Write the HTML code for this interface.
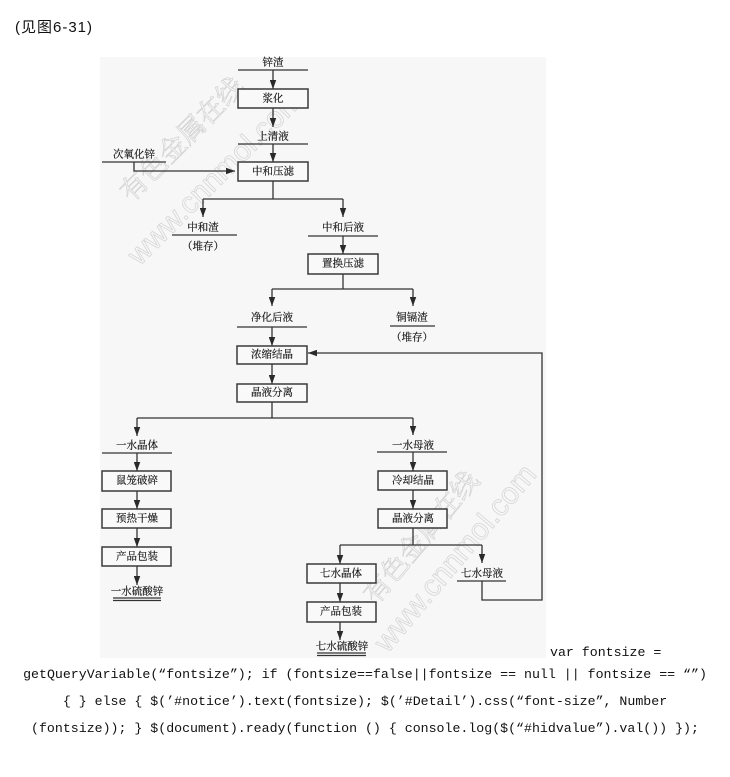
<!DOCTYPE html>
<html><head><meta charset="utf-8"><style>
html,body{margin:0;padding:0;background:#fff;}
body{width:730px;height:777px;position:relative;overflow:hidden;}
.hdr{position:absolute;left:15px;top:18px;font-family:"Liberation Sans","Noto Sans CJK SC",sans-serif;font-size:15px;letter-spacing:1px;color:#111;line-height:20px;white-space:nowrap;}
.code{position:absolute;font-family:"Liberation Mono","Noto Sans CJK SC",monospace;font-size:13.25px;color:#111;white-space:pre;line-height:16px;}
.c{left:0;width:730px;text-align:center;}
svg{position:absolute;left:0;top:0;}
</style></head><body>
<div class="hdr">(见图6-31)</div>
<svg width="730" height="777" viewBox="0 0 730 777" xmlns="http://www.w3.org/2000/svg">
<defs>
<marker id="a" viewBox="0 0 10 10" refX="10" refY="5" markerWidth="9" markerHeight="6.5" markerUnits="userSpaceOnUse" orient="auto" preserveAspectRatio="none"><path d="M0,0 L10,5 L0,10 z" fill="#2a2a2a"/></marker>
</defs>
<rect x="100" y="57" width="446" height="601" fill="#f7f7f7"/>
<!-- watermarks -->
<g fill="none" stroke="#d6d6d6" stroke-width="0.8">
<text x="183" y="148" transform="rotate(-45 183 140)" font-family="Noto Serif CJK SC, serif" font-size="27" text-anchor="middle">有色金属在线</text>
<text x="215" y="187" transform="rotate(-45 215 177)" font-family="Liberation Sans, sans-serif" font-size="30" text-anchor="middle">www.cnnmol.com</text>
<text x="422" y="546" transform="rotate(-50 422 538)" font-family="Noto Serif CJK SC, serif" font-size="27" text-anchor="middle">有色金属在线</text>
<text x="455" y="568" transform="rotate(-50 455 558)" font-family="Liberation Sans, sans-serif" font-size="30" text-anchor="middle">www.cnnmol.com</text>
</g>
<g stroke="#333" stroke-width="1.3" fill="none">
<line x1="238" y1="70" x2="308" y2="70"/>
<line x1="273" y1="70" x2="273" y2="89" marker-end="url(#a)"/>
<line x1="273" y1="108" x2="273" y2="127" marker-end="url(#a)"/>
<line x1="238" y1="144" x2="308" y2="144"/>
<line x1="273" y1="144" x2="273" y2="162" marker-end="url(#a)"/>
<line x1="102" y1="162" x2="166" y2="162"/>
<polyline points="134,162 134,171 235,171" marker-end="url(#a)"/>
<polyline points="273,181 273,199"/>
<line x1="203" y1="199" x2="343" y2="199"/>
<line x1="203" y1="199" x2="203" y2="217" marker-end="url(#a)"/>
<line x1="343" y1="199" x2="343" y2="217" marker-end="url(#a)"/>
<line x1="172" y1="235" x2="237" y2="235"/>
<line x1="308" y1="236" x2="378" y2="236"/>
<line x1="343" y1="236" x2="343" y2="254" marker-end="url(#a)"/>
<line x1="343" y1="274" x2="343" y2="289"/>
<line x1="272" y1="289" x2="413" y2="289"/>
<line x1="272" y1="289" x2="272" y2="306" marker-end="url(#a)"/>
<line x1="413" y1="289" x2="413" y2="306" marker-end="url(#a)"/>
<line x1="237" y1="327" x2="307" y2="327"/>
<line x1="390" y1="326" x2="435" y2="326"/>
<line x1="272" y1="327" x2="272" y2="346" marker-end="url(#a)"/>
<polyline points="482,581 482,600 542,600 542,353 308,353" marker-end="url(#a)"/>
<line x1="272" y1="364" x2="272" y2="384" marker-end="url(#a)"/>
<line x1="272" y1="402" x2="272" y2="418"/>
<line x1="137" y1="418" x2="413" y2="418"/>
<line x1="137" y1="418" x2="137" y2="436" marker-end="url(#a)"/>
<line x1="413" y1="418" x2="413" y2="435" marker-end="url(#a)"/>
<line x1="102" y1="453" x2="172" y2="453"/>
<line x1="137" y1="453" x2="137" y2="471" marker-end="url(#a)"/>
<line x1="137" y1="491" x2="137" y2="509" marker-end="url(#a)"/>
<line x1="137" y1="528" x2="137" y2="547" marker-end="url(#a)"/>
<line x1="137" y1="566" x2="137" y2="585" marker-end="url(#a)"/>
<line x1="113" y1="598" x2="161" y2="598"/>
<line x1="113" y1="600.5" x2="161" y2="600.5"/>
<line x1="377" y1="452" x2="447" y2="452"/>
<line x1="413" y1="452" x2="413" y2="471" marker-end="url(#a)"/>
<line x1="413" y1="490" x2="413" y2="509" marker-end="url(#a)"/>
<line x1="413" y1="528" x2="413" y2="545"/>
<line x1="340" y1="545" x2="482" y2="545"/>
<line x1="340" y1="545" x2="340" y2="564" marker-end="url(#a)"/>
<line x1="482" y1="545" x2="482" y2="563" marker-end="url(#a)"/>
<line x1="457" y1="581" x2="506" y2="581"/>
<line x1="340" y1="583" x2="340" y2="602" marker-end="url(#a)"/>
<line x1="340" y1="622" x2="340" y2="640" marker-end="url(#a)"/>
<line x1="317" y1="653" x2="366" y2="653"/>
<line x1="317" y1="655.5" x2="366" y2="655.5"/>
</g>
<g stroke="#3a3a3a" stroke-width="1.5" fill="#f9f9f9">
<rect x="238" y="89" width="70" height="19"/>
<rect x="238" y="162" width="70" height="19"/>
<rect x="308" y="254" width="70" height="20"/>
<rect x="237" y="346" width="70" height="18"/>
<rect x="237" y="384" width="70" height="18"/>
<rect x="102" y="471" width="69" height="20"/>
<rect x="102" y="509" width="69" height="19"/>
<rect x="102" y="547" width="69" height="19"/>
<rect x="378" y="471" width="69" height="19"/>
<rect x="378" y="509" width="69" height="19"/>
<rect x="307" y="564" width="69" height="19"/>
<rect x="307" y="602" width="69" height="20"/>
</g>
<g font-family="Liberation Serif, Noto Serif CJK SC, serif" font-size="10.5" fill="#111" stroke="#111" stroke-width="0.15" text-anchor="middle" dominant-baseline="central">
<text x="273" y="63">锌渣</text>
<text x="273" y="99">浆化</text>
<text x="273" y="137">上清液</text>
<text x="134" y="155">次氧化锌</text>
<text x="273" y="172">中和压滤</text>
<text x="203" y="228">中和渣</text>
<text x="203" y="247">（堆存）</text>
<text x="343" y="228">中和后液</text>
<text x="343" y="264">置换压滤</text>
<text x="272" y="318">净化后液</text>
<text x="412" y="318">铜镉渣</text>
<text x="412" y="338">（堆存）</text>
<text x="272" y="355">浓缩结晶</text>
<text x="272" y="393">晶液分离</text>
<text x="137" y="446">一水晶体</text>
<text x="137" y="481">鼠笼破碎</text>
<text x="137" y="519">预热干燥</text>
<text x="137" y="557">产品包装</text>
<text x="137" y="592">一水硫酸锌</text>
<text x="413" y="446">一水母液</text>
<text x="413" y="481">冷却结晶</text>
<text x="413" y="519">晶液分离</text>
<text x="341" y="574">七水晶体</text>
<text x="482" y="574">七水母液</text>
<text x="341" y="612">产品包装</text>
<text x="342" y="647">七水硫酸锌</text>
</g>
</svg>
<div class="code" style="left:550px;top:645px;">var fontsize =</div>
<div class="code c" style="top:667px;">getQueryVariable(“fontsize”); if (fontsize==false||fontsize == null || fontsize == “”)</div>
<div class="code c" style="top:694px;">{ } else { $(’#notice’).text(fontsize); $(’#Detail’).css(“font-size”, Number</div>
<div class="code c" style="top:721px;">(fontsize)); } $(document).ready(function () { console.log($(“#hidvalue”).val()) });</div>
</body></html>
